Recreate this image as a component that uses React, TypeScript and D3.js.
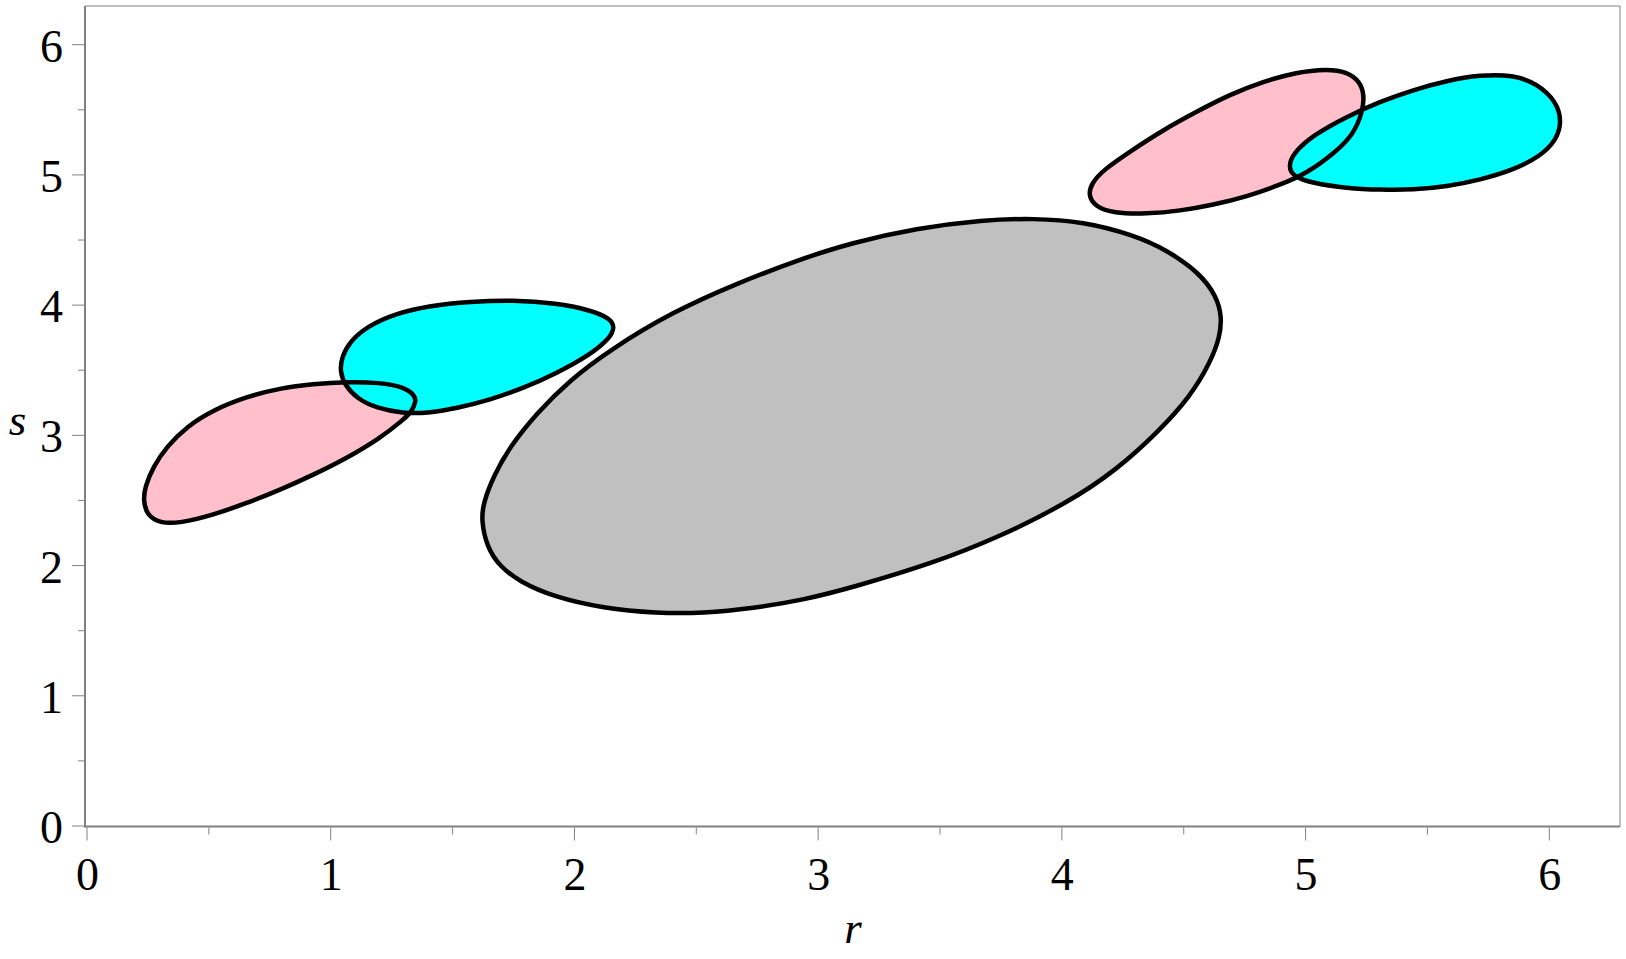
import React from "react";
import * as d3 from "d3";

// Closed curves, as [r, s] pairs
const greyRegion: [number, number][] = [
  [1.618, 2.350], [1.626, 2.479], [1.667, 2.683], [1.735, 2.913], [1.845, 3.170],
  [1.982, 3.426], [2.146, 3.656], [2.392, 3.938], [2.666, 4.168], [2.939, 4.360],
  [3.130, 4.475], [3.404, 4.591], [3.677, 4.654], [3.883, 4.667], [4.088, 4.641],
  [4.293, 4.539], [4.430, 4.424], [4.567, 4.245], [4.635, 4.065], [4.656, 3.912],
  [4.649, 3.758], [4.608, 3.554], [4.526, 3.297], [4.403, 3.041], [4.225, 2.734],
  [4.020, 2.478], [3.746, 2.222], [3.472, 2.018], [3.130, 1.826], [2.939, 1.736],
  [2.734, 1.672], [2.528, 1.634], [2.337, 1.634], [2.118, 1.672], [1.913, 1.761],
  [1.776, 1.876], [1.694, 1.992], [1.640, 2.145],
];
const pinkLower: [number, number][] = [
  [0.231, 2.504], [0.238, 2.606], [0.272, 2.760], [0.327, 2.913], [0.409, 3.067],
  [0.518, 3.195], [0.655, 3.297], [0.792, 3.362], [0.928, 3.395], [1.065, 3.412],
  [1.202, 3.405], [1.297, 3.374], [1.345, 3.310], [1.350, 3.259], [1.332, 3.182],
  [1.297, 3.118], [1.202, 2.978], [1.065, 2.824], [0.928, 2.696], [0.792, 2.581],
  [0.655, 2.479], [0.518, 2.389], [0.381, 2.325], [0.299, 2.325], [0.245, 2.389],
];
const cyanLower: [number, number][] = [
  [1.038, 3.489], [1.045, 3.604], [1.079, 3.720], [1.147, 3.835], [1.270, 3.938],
  [1.407, 3.996], [1.571, 4.027], [1.749, 4.040], [1.927, 4.015], [2.064, 3.963],
  [2.146, 3.899], [2.166, 3.835], [2.146, 3.746], [2.064, 3.618], [1.927, 3.477],
  [1.790, 3.362], [1.653, 3.272], [1.517, 3.208], [1.394, 3.170], [1.297, 3.170],
  [1.188, 3.208], [1.106, 3.285], [1.058, 3.387],
];
const pinkUpper: [number, number][] = [
  [4.108, 4.846], [4.122, 4.936], [4.170, 5.038], [4.279, 5.179], [4.416, 5.346],
  [4.553, 5.486], [4.690, 5.618], [4.826, 5.717], [4.963, 5.789], [5.087, 5.814],
  [5.169, 5.793], [5.223, 5.717], [5.241, 5.614], [5.234, 5.486], [5.196, 5.307],
  [5.114, 5.161], [5.005, 5.013], [4.895, 4.923], [4.758, 4.833], [4.621, 4.770],
  [4.485, 4.724], [4.348, 4.700], [4.211, 4.706], [4.136, 4.757],
];
const cyanUpper: [number, number][] = [
  [4.929, 5.064], [4.949, 5.167], [5.032, 5.307], [5.169, 5.448], [5.305, 5.563],
  [5.442, 5.653], [5.579, 5.724], [5.716, 5.768], [5.852, 5.768], [5.948, 5.704],
  [6.030, 5.563], [6.051, 5.409], [6.030, 5.269], [5.962, 5.141], [5.852, 5.038],
  [5.716, 4.962], [5.579, 4.910], [5.442, 4.885], [5.305, 4.885], [5.169, 4.898],
  [5.032, 4.936], [4.949, 4.987],
];

const regions = [
  { pts: greyRegion, fill: "#c0c0c0" },
  { pts: pinkLower, fill: "#ffc0cb" },
  { pts: cyanLower, fill: "#00ffff" },
  { pts: pinkUpper, fill: "#ffc0cb" },
  { pts: cyanUpper, fill: "#00ffff" },
];

const majorTicks = [0, 1, 2, 3, 4, 5, 6];
const minorTicks = [0.5, 1.5, 2.5, 3.5, 4.5, 5.5];
const xLabel = "r";
const yLabel = "s";

const W = 1626;
const H = 959;
const frameLeft = 85;
const frameRight = 1620;
const frameTop = 6;
const frameBottom = 826.5;

export default function App() {
  const x = d3.scaleLinear().domain([0, 6]).range([87, 1549.3]);
  const y = d3.scaleLinear().domain([0, 6]).range([826, 44.7]);
  const line = d3
    .line<[number, number]>()
    .x((d) => x(d[0]))
    .y((d) => y(d[1]))
    .curve(d3.curveBasisClosed);

  const axisColor = "#808080";
  const font = "'Liberation Serif', 'Times New Roman', serif";

  return (
    <svg
      width={W}
      height={H}
      style={{ position: "absolute", left: 0, top: 0, background: "#fff" }}
    >
      {/* frame */}
      <line x1={frameLeft} x2={frameRight} y1={frameTop} y2={frameTop} stroke={axisColor} strokeWidth={1} />
      <line x1={frameRight} x2={frameRight} y1={frameTop} y2={frameBottom} stroke={axisColor} strokeWidth={1} />

      {/* fills */}
      {regions.map((r, i) => (
        <path key={"f" + i} d={line(r.pts) || ""} fill={r.fill} stroke="none" />
      ))}
      {/* outlines */}
      {regions.map((r, i) => (
        <path key={"o" + i} d={line(r.pts) || ""} fill="none" stroke="#000" strokeWidth={4.5} strokeLinejoin="round" />
      ))}

      {/* axes */}
      <line x1={frameLeft} x2={frameLeft} y1={frameTop} y2={frameBottom + 1} stroke={axisColor} strokeWidth={2} />
      <line x1={frameLeft - 1} x2={frameRight} y1={frameBottom} y2={frameBottom} stroke={axisColor} strokeWidth={2} />

      {/* x ticks */}
      {majorTicks.map((t) => (
        <g key={"xt" + t}>
          <line x1={x(t)} x2={x(t)} y1={frameBottom + 1} y2={frameBottom + 14} stroke={axisColor} strokeWidth={1} />
          <text x={x(t) + 0.5} y={890} textAnchor="middle" fontFamily={font} fontSize={46} fill="#000">
            {t}
          </text>
        </g>
      ))}
      {minorTicks.map((t) => (
        <line key={"xm" + t} x1={x(t)} x2={x(t)} y1={frameBottom + 1} y2={frameBottom + 8} stroke={axisColor} strokeWidth={1} />
      ))}

      {/* y ticks */}
      {majorTicks.map((t) => (
        <g key={"yt" + t}>
          <line x1={frameLeft - 13} x2={frameLeft} y1={y(t)} y2={y(t)} stroke={axisColor} strokeWidth={1} />
          <text x={63} y={y(t) + 17} textAnchor="end" fontFamily={font} fontSize={46} fill="#000">
            {t}
          </text>
        </g>
      ))}
      {minorTicks.map((t) => (
        <line key={"ym" + t} x1={frameLeft - 7} x2={frameLeft} y1={y(t)} y2={y(t)} stroke={axisColor} strokeWidth={1} />
      ))}

      {/* axis labels */}
      <text x={853} y={943} textAnchor="middle" fontFamily={font} fontStyle="italic" fontSize={45} fill="#000">
        {xLabel}
      </text>
      <text x={17.5} y={435} textAnchor="middle" fontFamily={font} fontStyle="italic" fontSize={45} fill="#000">
        {yLabel}
      </text>
    </svg>
  );
}
